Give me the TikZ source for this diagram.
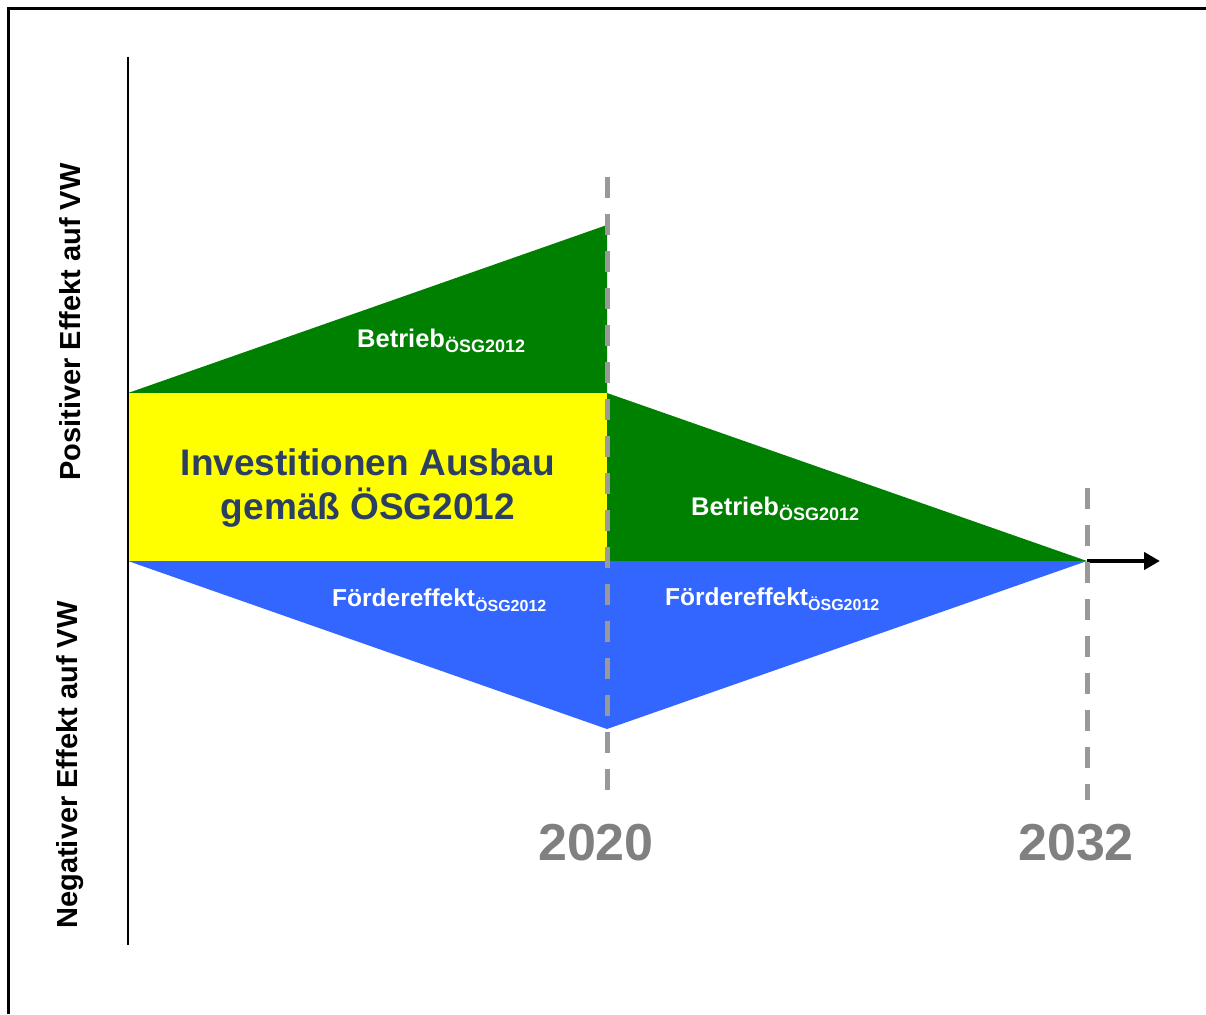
\documentclass[tikz,border=0pt]{standalone}
\usepackage{fontspec}
\setmainfont{Liberation Sans}
\usetikzlibrary{arrows.meta}
\definecolor{gruen}{HTML}{008000}
\definecolor{gelb}{HTML}{FFFF00}
\definecolor{blau}{HTML}{3366FF}
\definecolor{dunkelblau}{HTML}{2B3F63}
\definecolor{strichgrau}{HTML}{999999}
\definecolor{jahrgrau}{HTML}{808080}
\newcommand{\osgsub}[1]{\raisebox{-5pt}{\fontsize{#1}{#1}\selectfont ÖSG2012}}

\begin{document}
\begin{tikzpicture}[x=1pt, y=-1pt,
    flaeche/.style={font=\fontsize{25.5}{25.5}\selectfont\bfseries, text=white, inner sep=0pt},
    jahr/.style={font=\fontsize{52}{52}\selectfont\bfseries, text=jahrgrau, inner sep=0pt},
    achse/.style={font=\fontsize{29}{29}\selectfont\bfseries, rotate=90, inner sep=0pt},
    trenn/.style={strichgrau, line width=5pt, dash pattern=on 21pt off 16pt}]
    % Rahmen
    \useasboundingbox (0,0) rectangle (1206,1014);
    \draw[line width=3pt] (8,1014) -- (8,9) -- (1206,9);
    % Punkte
    \coordinate (O) at (128,561);
    \coordinate (A) at (128,393);
    \coordinate (M) at (607,561);
    \coordinate (Mo) at (607,393);
    \coordinate (Mt) at (607,225);
    \coordinate (Mu) at (607,729);
    \coordinate (E) at (1087,561);
    \coordinate (P) at (1160,561);
    % Flaechen
    \fill[gruen] (A) -- (Mt) -- (Mo) -- cycle;
    \fill[gelb] (A) rectangle (M);
    \fill[gruen] (Mo) -- (E) -- (M) -- cycle;
    \fill[blau] (O) -- (Mu) -- (E) -- cycle;
    % Achsen
    \draw[line width=2pt] (128,57) -- (128,945);
    \draw[line width=4.5pt, -{Triangle[length=16pt, width=17pt]}] (E) -- (P);
    % Jahre
    \draw[trenn] (607,177) -- (607,800);
    \draw[trenn] (1087,488) -- (1087,800);
    \node[jahr] (j2020) at (596,843) {2020};
    \node[jahr] (j2032) at (1076,843) {2032};
    % Beschriftung
    \node[flaeche, anchor=base west] (b1) at (357,347) {Betrieb\osgsub{18}};
    \node[flaeche, anchor=base west] (b2) at (691,515) {Betrieb\osgsub{18}};
    \node[flaeche, anchor=base west, font=\fontsize{24.5}{24.5}\selectfont\bfseries] (f1) at (332,606) {Fördereffekt\osgsub{16}};
    \node[flaeche, anchor=base west, font=\fontsize{24.5}{24.5}\selectfont\bfseries] (f2) at (665,605) {Fördereffekt\osgsub{16}};
    \node[font=\fontsize{37}{44}\selectfont\bfseries, text=dunkelblau, align=center] (inv) at (368,488) {Investitionen Ausbau\\gemäß ÖSG2012};
    \node[achse] (pos) at (70,322) {Positiver Effekt auf VW};
    \node[achse] (neg) at (70,765) {Negativer Effekt auf VW};
\end{tikzpicture}
\end{document}
